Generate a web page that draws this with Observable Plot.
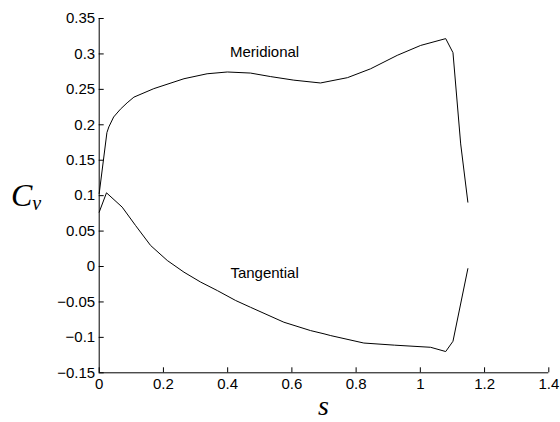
<!DOCTYPE html>
<html>
<head>
<meta charset="utf-8">
<script src="https://cdn.jsdelivr.net/npm/d3@7"></script>
<script src="https://cdn.jsdelivr.net/npm/@observablehq/plot@0.6"></script>
<style>
  html, body { margin: 0; padding: 0; background: #fff; }
</style>
</head>
<body>
<div id="chart"></div>
<script>
// Meridional velocity coefficient along the arc length s
const meridionalS = [0, 0.024, 0.030, 0.045, 0.066, 0.087, 0.108, 0.170, 0.264, 0.336, 0.399, 0.471, 0.534, 0.606, 0.689, 0.773, 0.845, 0.928, 1.001, 1.079, 1.1016, 1.1256, 1.148];
const meridionalC = [0.103, 0.189, 0.197, 0.211, 0.222, 0.231, 0.239, 0.251, 0.265, 0.272, 0.2745, 0.273, 0.268, 0.263, 0.259, 0.2665, 0.279, 0.298, 0.312, 0.3216, 0.3018, 0.173, 0.0908];

// Tangential velocity coefficient along the arc length s
const tangentialS = [0, 0.0227, 0.0716, 0.113, 0.160, 0.212, 0.264, 0.316, 0.368, 0.425, 0.471, 0.575, 0.658, 0.700, 0.721, 0.824, 0.920, 1.032, 1.079, 1.1016, 1.148];
const tangentialC = [0.0767, 0.104, 0.0838, 0.058, 0.0297, 0.0085, -0.008, -0.022, -0.034, -0.048, -0.0575, -0.0786, -0.0904, -0.095, -0.0975, -0.108, -0.111, -0.114, -0.120, -0.1055, -0.003];

// Curve names and where they are written
const curveNames = ["Meridional", "Tangential"];
const labelS = [0.515, 0.515];
const labelC = [0.302, -0.010];

const xTicks = [0, 0.2, 0.4, 0.6, 0.8, 1, 1.2, 1.4];
const yTicks = [-0.15, -0.1, -0.05, 0, 0.05, 0.1, 0.15, 0.2, 0.25, 0.3, 0.35];

const meridional = meridionalS.map((s, i) => ({s, c: meridionalC[i]}));
const tangential = tangentialS.map((s, i) => ({s, c: tangentialC[i]}));
const labels = curveNames.map((name, i) => ({name, s: labelS[i], c: labelC[i]}));

const fmt = d => String(+d.toFixed(2)).replace("-", "\u2212");
const tickFont = {fontSize: 15, fontFamily: "Liberation Sans, Arial, sans-serif"};

const chart = Plot.plot({
  width: 560,
  height: 422,
  marginLeft: 98.7,
  marginRight: 11.7,
  marginTop: 18,
  marginBottom: 49.7,
  style: {background: "#fff", color: "#000", overflow: "visible"},
  x: {domain: [0, 1.4]},
  y: {domain: [-0.15, 0.35]},
  marks: [
    Plot.axisX({ticks: xTicks, tickSize: -5, tickPadding: 11, tickFormat: fmt, label: null, stroke: "#000", ...tickFont}),
    Plot.axisY({ticks: yTicks, tickSize: -5, tickPadding: 9, tickFormat: fmt, label: null, stroke: "#000", ...tickFont}),
    Plot.ruleX([0], {stroke: "#000"}),
    Plot.ruleY([-0.15], {stroke: "#000"}),
    Plot.line(meridional, {x: "s", y: "c", stroke: "#000", strokeWidth: 1}),
    Plot.line(tangential, {x: "s", y: "c", stroke: "#000", strokeWidth: 1}),
    Plot.text(labels, {x: "s", y: "c", text: "name", fill: "#000", ...tickFont})
  ]
});

// Axis titles set in italic serif, with a subscript on C
const svg = d3.select(chart);
const yTitle = svg.append("text")
  .attr("x", 11)
  .attr("y", 206)
  .attr("text-anchor", "start")
  .attr("font-family", "Liberation Serif, Times New Roman, serif")
  .attr("font-style", "italic")
  .attr("font-size", 32)
  .attr("fill", "#000");
yTitle.append("tspan").text("C");
yTitle.append("tspan").attr("font-size", 20).attr("dy", 4).text("v");

svg.append("text")
  .attr("x", 323.5)
  .attr("y", 415)
  .attr("text-anchor", "middle")
  .attr("font-family", "Liberation Serif, Times New Roman, serif")
  .attr("font-style", "italic")
  .attr("font-size", 28)
  .attr("fill", "#000")
  .text("s");

document.getElementById("chart").append(chart);
</script>
</body>
</html>
